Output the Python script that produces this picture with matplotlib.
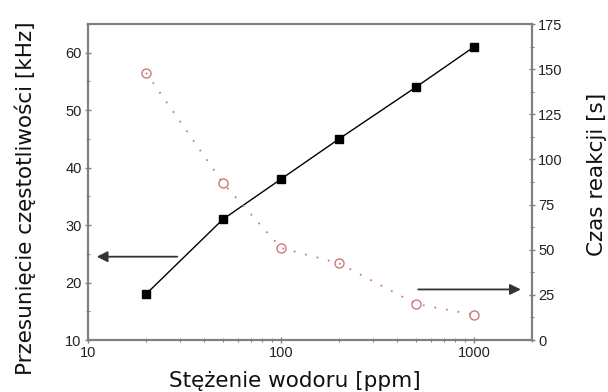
import matplotlib
matplotlib.use("Agg")
import matplotlib.pyplot as plt
from matplotlib.ticker import LogLocator, NullFormatter, MultipleLocator, FixedLocator

plt.rcParams['font.family'] = ['Liberation Sans', 'DejaVu Sans']

# data
conc_ppm = [20, 50, 100, 200, 500, 1000]
freq_shift_khz = [18, 31, 38, 45, 54, 61]
reaction_time_s = [148, 87, 51, 42.5, 20, 14]

# arrow anchors (data coords of each axis)
left_arrow_x = [29, 11.1]
left_arrow_y = 24.5
right_arrow_x = [515, 1750]
right_arrow_y = 28

SPINE = "#808080"
CIRCLE = "#cc7a7a"
LABEL_FONT = dict(fontsize=15.5, family=["DejaVu Sans"], color="#111111")

fig = plt.figure(figsize=(6.08, 3.92), dpi=100)
ax = fig.add_axes([88 / 608, 1 - 340 / 392, (532 - 88) / 608, (340 - 24) / 392])
ax2 = ax.twinx()

ax.plot(conc_ppm, freq_shift_khz, color="black", lw=1.0, marker="s",
        ms=5.5, mfc="black", mec="black", zorder=3)
ax2.plot(conc_ppm, reaction_time_s, color=CIRCLE, lw=1.3, ls=(0, (1, 5.5)),
         marker="o", ms=6.5, mfc="none", mec=CIRCLE, mew=1.0)

ax.set_xscale("log")
ax.set_xlim(10, 2000)
ax.set_ylim(10, 65)
ax2.set_ylim(0, 175)

ax.xaxis.set_major_locator(FixedLocator([10, 100, 1000]))
ax.xaxis.set_major_formatter(plt.FuncFormatter(lambda v, p: f"{int(v)}"))
ax.xaxis.set_minor_locator(LogLocator(base=10, subs=range(2, 10)))
ax.xaxis.set_minor_formatter(NullFormatter())
ax.yaxis.set_major_locator(FixedLocator([10, 20, 30, 40, 50, 60]))
ax.yaxis.set_minor_locator(MultipleLocator(5))
ax2.yaxis.set_major_locator(MultipleLocator(25))
ax2.yaxis.set_minor_locator(MultipleLocator(12.5))

for a in (ax, ax2):
    for s in a.spines.values():
        s.set_color(SPINE)
        s.set_linewidth(1.5)
    a.tick_params(which="major", direction="inout", length=5, width=1.0,
                  color=SPINE, labelsize=10.5, labelcolor="#222222", pad=2)
    a.tick_params(which="minor", direction="inout", length=3, width=0.8,
                  color=SPINE)

ax.set_xlabel("Stężenie wodoru [ppm]", va="center", **LABEL_FONT)
ax.set_ylabel("Przesunięcie częstotliwości [kHz]", va="center", **LABEL_FONT)
ax2.set_ylabel("Czas reakcji [s]", va="center", **LABEL_FONT)
ax.xaxis.set_label_coords(0.466, -0.13)
ax.yaxis.set_label_coords(-0.142, 0.45)
ax2.yaxis.set_label_coords(1.147, 0.525)

ax.annotate("", xy=(left_arrow_x[1], left_arrow_y),
            xytext=(left_arrow_x[0], left_arrow_y),
            arrowprops=dict(arrowstyle="-|>", color="#333333", lw=1.3,
                            mutation_scale=16, shrinkA=0, shrinkB=0))
ax2.annotate("", xy=(right_arrow_x[1], right_arrow_y),
             xytext=(right_arrow_x[0], right_arrow_y),
             arrowprops=dict(arrowstyle="-|>", color="#333333", lw=1.3,
                             mutation_scale=16, shrinkA=0, shrinkB=0))

fig.savefig("out.png", dpi=100)
